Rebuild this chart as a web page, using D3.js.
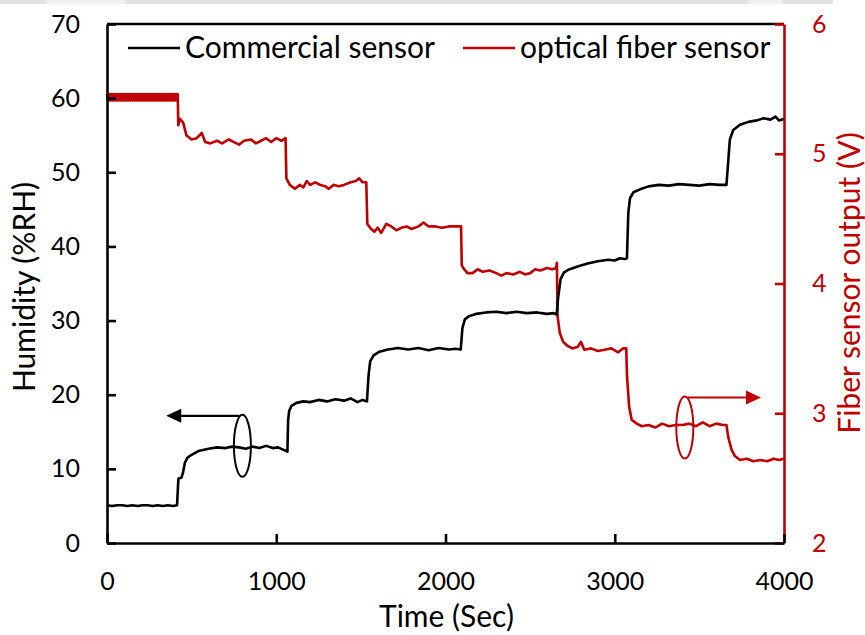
<!DOCTYPE html>
<html>
<head>
<meta charset="utf-8">
<script src="https://cdn.jsdelivr.net/npm/d3@7"></script>
<style>
  html, body { margin: 0; padding: 0; background: #fff; }
  svg { display: block; font-family: Lato, "Open Sans", sans-serif; }
</style>
</head>
<body>
<svg id="chart" width="865" height="635"></svg>
<script>
// ---- data ----------------------------------------------------------------
const xTicks = [0, 1000, 2000, 3000, 4000];
const rhTicks = [0, 10, 20, 30, 40, 50, 60, 70];
const voltTicks = [2, 3, 4, 5, 6];
const seriesNames = ["Commercial sensor", "optical fiber sensor"];

// Commercial humidity sensor (%RH) vs time (s)
const commercialTime = [
  0, 30, 60, 90, 120, 150, 180, 210, 240, 270, 300, 330, 360, 390, 414,
  418, 422, 440, 450, 460, 475, 500, 540, 600, 650, 700, 740, 780, 820, 860, 900, 940, 980, 1010, 1040, 1060, 1066,
  1070, 1076, 1090, 1120, 1160, 1200, 1250, 1300, 1350, 1400, 1440, 1480, 1510, 1536,
  1545, 1555, 1575, 1610, 1660, 1720, 1780, 1840, 1900, 1960, 2020, 2060, 2090,
  2100, 2115, 2140, 2180, 2240, 2300, 2360, 2420, 2480, 2540, 2600, 2640, 2657,
  2665, 2680, 2700, 2730, 2780, 2840, 2900, 2960, 3000, 3030, 3060, 3072,
  3080, 3090, 3110, 3150, 3200, 3260, 3320, 3380, 3440, 3500, 3560, 3620, 3660,
  3668, 3680, 3700, 3740, 3790, 3840, 3880, 3920, 3950, 3970, 4000
];
const commercialRH = [
  5.1, 5.0, 5.1, 5.1, 5.0, 5.1, 5.0, 5.1, 5.1, 5.0, 5.1, 5.0, 5.1, 5.0, 5.1,
  7.0, 8.7, 8.8, 9.6, 10.8, 11.5, 11.9, 12.4, 12.7, 12.9, 12.8, 13.0, 12.9, 12.7, 13.0, 12.8, 13.1, 12.8, 12.9, 12.6, 12.4, 12.3,
  16.5, 17.8, 18.5, 18.9, 19.1, 19.0, 19.3, 19.1, 19.4, 19.2, 19.5, 19.0, 19.3, 19.1,
  22.5, 24.5, 25.3, 25.8, 26.1, 26.3, 26.1, 26.3, 26.0, 26.3, 26.1, 26.2, 26.1,
  29.0, 30.2, 30.6, 30.9, 31.1, 31.2, 31.0, 31.2, 31.0, 31.1, 30.9, 31.0, 30.8,
  33.0, 35.6, 36.5, 36.9, 37.3, 37.7, 38.0, 38.2, 38.1, 38.4, 38.3, 38.4,
  44.5, 46.5, 47.3, 47.7, 48.1, 48.3, 48.2, 48.4, 48.3, 48.2, 48.4, 48.3, 48.3,
  50.7, 54.4, 55.7, 56.4, 56.8, 57.0, 57.3, 57.1, 57.5, 57.0, 57.2
];

// Optical fiber sensor output (V) vs time (s); the first plateau flickers
// rapidly between two readings
const fiberTime = [
  0, 6, 12, 18, 24, 30, 36, 42, 48, 54, 60, 66, 72, 78, 84, 90, 96, 102, 108, 114,
  120, 126, 132, 138, 144, 150, 156, 162, 168, 174, 180, 186, 192, 198, 204, 210, 216, 222, 228, 234,
  240, 246, 252, 258, 264, 270, 276, 282, 288, 294, 300, 306, 312, 318, 324, 330, 336, 342, 348, 354,
  360, 366, 372, 378, 384, 390, 396, 402, 408, 414, 418,
  421, 430, 450, 470, 500, 530, 560, 580, 610, 650, 680, 720, 750, 780, 810, 850, 880, 910, 940, 970, 1000, 1030, 1055,
  1060, 1080, 1110, 1140, 1160, 1180, 1200, 1230, 1260, 1290, 1310, 1340, 1370, 1400, 1440, 1470, 1490, 1510, 1532,
  1538, 1560, 1580, 1600, 1620, 1650, 1680, 1710, 1740, 1770, 1800, 1840, 1870, 1900, 1940, 1980, 2020, 2060, 2092,
  2096, 2110, 2130, 2160, 2190, 2220, 2260, 2300, 2330, 2360, 2400, 2440, 2470, 2500, 2530, 2560, 2600, 2630, 2654, 2658,
  2662, 2675, 2695, 2720, 2750, 2780, 2800, 2820, 2860, 2900, 2940, 2980, 3020, 3050, 3068,
  3072, 3085, 3100, 3130, 3160, 3200, 3240, 3280, 3320, 3360, 3400, 3440, 3480, 3520, 3560, 3600, 3640, 3660,
  3670, 3690, 3710, 3740, 3780, 3820, 3860, 3900, 3940, 3970, 4000
];
const fiberVolt = [
  5.46, 5.41, 5.46, 5.41, 5.46, 5.41, 5.46, 5.41, 5.46, 5.41, 5.46, 5.41, 5.46, 5.41, 5.46, 5.41, 5.46, 5.41, 5.46, 5.41,
  5.46, 5.41, 5.46, 5.41, 5.46, 5.41, 5.46, 5.41, 5.46, 5.41, 5.46, 5.41, 5.46, 5.41, 5.46, 5.41, 5.46, 5.41, 5.46, 5.41,
  5.46, 5.41, 5.46, 5.41, 5.46, 5.41, 5.46, 5.41, 5.46, 5.41, 5.46, 5.41, 5.46, 5.41, 5.46, 5.41, 5.46, 5.41, 5.46, 5.41,
  5.46, 5.41, 5.46, 5.41, 5.46, 5.41, 5.46, 5.41, 5.46, 5.41, 5.46,
  5.22, 5.27, 5.24, 5.14, 5.11, 5.12, 5.16, 5.09, 5.08, 5.10, 5.08, 5.11, 5.09, 5.07, 5.10, 5.11, 5.08, 5.10, 5.12, 5.09, 5.12, 5.10, 5.12,
  4.81, 4.76, 4.73, 4.76, 4.74, 4.79, 4.76, 4.78, 4.76, 4.75, 4.73, 4.76, 4.75, 4.76, 4.78, 4.79, 4.81, 4.78, 4.78,
  4.46, 4.42, 4.40, 4.43, 4.39, 4.46, 4.44, 4.41, 4.43, 4.44, 4.42, 4.44, 4.47, 4.44, 4.44, 4.43, 4.44, 4.44, 4.44,
  4.14, 4.11, 4.08, 4.08, 4.11, 4.09, 4.10, 4.08, 4.06, 4.08, 4.07, 4.09, 4.07, 4.08, 4.11, 4.10, 4.12, 4.11, 4.12, 4.16,
  3.75, 3.62, 3.55, 3.52, 3.50, 3.51, 3.55, 3.49, 3.50, 3.48, 3.49, 3.50, 3.47, 3.50, 3.50,
  3.30, 3.05, 2.95, 2.92, 2.90, 2.91, 2.89, 2.92, 2.90, 2.91, 2.91, 2.92, 2.90, 2.93, 2.90, 2.92, 2.91, 2.91,
  2.82, 2.72, 2.67, 2.64, 2.65, 2.63, 2.64, 2.63, 2.65, 2.64, 2.65
];

// ---- layout --------------------------------------------------------------
const BLACK = "#000000";
const RED = "#c00000";
const plot = { left: 107, right: 784, top: 24, bottom: 543 };

const svg = d3.select("#chart");

// faint strip along the top edge of the page
const strip = [[0, 47, "#e4e4e4"], [47, 125, "#f1f1f1"], [125, 748, "#e4e4e4"], [748, 782, "#f1f1f1"], [782, 833, "#e4e4e4"]];
svg.selectAll("rect.strip").data(strip).join("rect")
  .attr("class", "strip")
  .attr("x", d => d[0]).attr("y", 0)
  .attr("width", d => d[1] - d[0]).attr("height", 4)
  .attr("fill", d => d[2]);

const x = d3.scaleLinear().domain([0, 4000]).range([plot.left, plot.right]);
const yL = d3.scaleLinear().domain([0, 70]).range([plot.bottom, plot.top]);
const yR = d3.scaleLinear().domain([2, 6]).range([plot.bottom, plot.top]);

// ---- series --------------------------------------------------------------
const commercial = commercialTime.map((t, i) => [t, commercialRH[i]]);
const fiber = fiberTime.map((t, i) => [t, fiberVolt[i]]);

svg.append("path")
  .datum(fiber)
  .attr("fill", "none")
  .attr("stroke", RED)
  .attr("stroke-width", 2.6)
  .attr("stroke-linejoin", "round")
  .attr("d", d3.line().x(d => x(d[0])).y(d => yR(d[1])));

svg.append("path")
  .datum(commercial)
  .attr("fill", "none")
  .attr("stroke", BLACK)
  .attr("stroke-width", 2.6)
  .attr("stroke-linejoin", "round")
  .attr("d", d3.line().x(d => x(d[0])).y(d => yL(d[1])));

// ---- axes ----------------------------------------------------------------
const tickFont = 25;

// top frame line
svg.append("line")
  .attr("x1", plot.left).attr("x2", plot.right)
  .attr("y1", plot.top).attr("y2", plot.top)
  .attr("stroke", BLACK).attr("stroke-width", 2.6);

const rightAxis = svg.append("g")
  .attr("transform", `translate(${plot.right},0)`)
  .call(d3.axisRight(yR).tickValues(voltTicks).tickFormat(d3.format("d"))
    .tickSizeInner(-9).tickSizeOuter(0).tickPadding(28));
rightAxis.select(".domain").attr("stroke", RED).attr("stroke-width", 2.6);
rightAxis.selectAll(".tick line").attr("stroke", RED).attr("stroke-width", 2.6);
rightAxis.selectAll(".tick text").attr("fill", RED)
  .style("font-size", tickFont + "px").style("font-family", "Lato, sans-serif");

const leftAxis = svg.append("g")
  .attr("transform", `translate(${plot.left},0)`)
  .call(d3.axisLeft(yL).tickValues(rhTicks).tickFormat(d3.format("d"))
    .tickSizeInner(-9).tickSizeOuter(0).tickPadding(27));
leftAxis.select(".domain").attr("stroke", BLACK).attr("stroke-width", 2.6);
leftAxis.selectAll(".tick line").attr("stroke", BLACK).attr("stroke-width", 2.6);
leftAxis.selectAll(".tick text").attr("fill", BLACK)
  .style("font-size", tickFont + "px").style("font-family", "Lato, sans-serif");

const bottomAxis = svg.append("g")
  .attr("transform", `translate(0,${plot.bottom})`)
  .call(d3.axisBottom(x).tickValues(xTicks).tickFormat(d3.format("d"))
    .tickSizeInner(-9).tickSizeOuter(0).tickPadding(29));
bottomAxis.select(".domain").attr("stroke", BLACK).attr("stroke-width", 2.6);
bottomAxis.selectAll(".tick line").attr("stroke", BLACK).attr("stroke-width", 2.6);
bottomAxis.selectAll(".tick text").attr("fill", BLACK)
  .style("font-size", tickFont + "px").style("font-family", "Lato, sans-serif");

// ---- axis titles ---------------------------------------------------------
const titleFont = 30;
svg.append("text")
  .attr("x", (plot.left + plot.right) / 2 + 1).attr("y", 627)
  .attr("text-anchor", "middle")
  .style("font-size", titleFont + "px")
  .attr("fill", BLACK)
  .text("Time (Sec)");

svg.append("text")
  .attr("transform", `translate(35,287) rotate(-90)`)
  .attr("text-anchor", "middle")
  .style("font-size", titleFont + "px")
  .attr("fill", BLACK)
  .text("Humidity (%RH)");

svg.append("text")
  .attr("transform", `translate(860,283) rotate(-90)`)
  .attr("text-anchor", "middle")
  .style("font-size", titleFont + "px")
  .attr("fill", RED)
  .text("Fiber sensor output (V)");

// ---- legend --------------------------------------------------------------
const legendFont = 30;
const legendItems = [
  { name: seriesNames[0], color: BLACK, x0: 128 },
  { name: seriesNames[1], color: RED, x0: 463 }
];
const lg = svg.append("g").selectAll("g").data(legendItems).join("g")
  .attr("transform", d => `translate(${d.x0},48)`);
lg.append("line")
  .attr("x1", 0).attr("x2", 52).attr("y1", 0).attr("y2", 0)
  .attr("stroke", d => d.color).attr("stroke-width", 2.6);
lg.append("text")
  .attr("x", 57).attr("y", 10)
  .style("font-size", legendFont + "px")
  .attr("fill", BLACK)
  .text(d => d.name);

// ---- annotations: ellipses with arrows pointing to each series' axis ----
function marker(cx, cy, tipX, color) {
  const g = svg.append("g");
  g.append("ellipse")
    .attr("cx", cx).attr("cy", cy).attr("rx", 8.5).attr("ry", 31)
    .attr("fill", "none").attr("stroke", color).attr("stroke-width", 2);
  const yA = cy - 30;
  const startX = cx + (tipX < cx ? -3 : 3);
  const dir = tipX < cx ? -1 : 1;
  g.append("line")
    .attr("x1", startX).attr("x2", tipX - dir * 12)
    .attr("y1", yA).attr("y2", yA)
    .attr("stroke", color).attr("stroke-width", 2.2);
  g.append("path")
    .attr("d", `M${tipX},${yA} L${tipX - dir * 15},${yA - 7} L${tipX - dir * 15},${yA + 7} Z`)
    .attr("fill", color);
}
marker(x(800), yL(13.1), x(350), BLACK);
marker(x(3414), yR(2.89), x(3864), RED);
</script>
</body>
</html>
